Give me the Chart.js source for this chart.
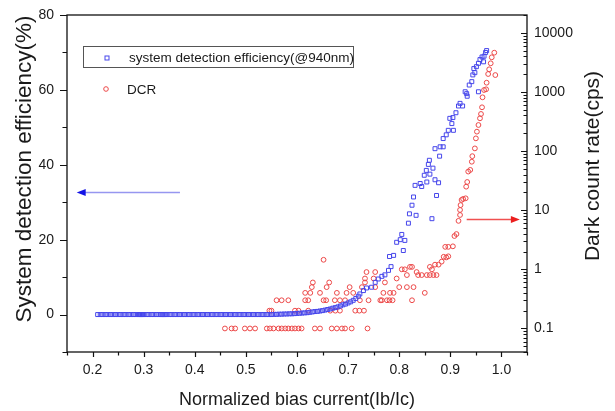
<!DOCTYPE html>
<html>
<head>
<meta charset="utf-8">
<script src="https://cdn.jsdelivr.net/npm/chart.js@4.4.1/dist/chart.umd.min.js"></script>
<style>
  html, body { margin: 0; padding: 0; background: #fff; }
</style>
</head>
<body>
<canvas id="grafico" width="615" height="411"></canvas>
<script>
// eixo x: corrente de polarizacao normalizada
const xTicks = [0.2, 0.3, 0.4, 0.5, 0.6, 0.7, 0.8, 0.9, 1.0];
const sdeTicks = [0, 20, 40, 60, 80];
const dcrTicks = [0.1, 1, 10, 100, 1000, 10000];

const sdeLabel = 'system detection efficiency(@940nm)';
const dcrLabel = 'DCR';

// SDE (%) -> [Ib/Ic, %]
const sdePontos = [
  [0.21,0],[0.215,0],[0.22,0],[0.225,0],[0.23,0],[0.235,0],[0.24,0],[0.245,0],[0.25,0],[0.255,0],
  [0.26,0],[0.265,0],[0.27,0],[0.275,0],[0.28,0],[0.285,0],[0.29,0],[0.292,0],[0.294,0],[0.296,0],
  [0.298,0],[0.3,0],[0.305,0],[0.31,0],[0.315,0],[0.32,0],[0.325,0],[0.33,0],[0.334,0],[0.336,0],
  [0.338,0],[0.34,0],[0.342,0],[0.345,0],[0.35,0],[0.355,0],[0.36,0],[0.365,0],[0.37,0],[0.375,0],
  [0.38,0],[0.385,0],[0.39,0],[0.395,0],[0.4,0],[0.405,0],[0.41,0],[0.415,0],[0.42,0],[0.425,0],
  [0.43,0],[0.435,0],[0.44,0],[0.445,0],[0.45,0],[0.455,0],[0.46,0],[0.465,0],[0.47,0],[0.475,0],
  [0.48,0],[0.485,0],[0.49,0],[0.495,0],[0.5,0],[0.505,0],[0.51,0],[0.515,0],[0.52,0],[0.525,0],
  [0.53,0],[0.535,0],[0.54,0],[0.545,0],[0.55,0],
  [0.555,0.05],[0.56,0.05],[0.565,0.1],[0.57,0.1],[0.575,0.15],[0.58,0.15],[0.585,0.2],[0.59,0.2],
  [0.595,0.25],[0.6,0.3],[0.605,0.35],[0.61,0.4],[0.615,0.45],[0.62,0.5],[0.625,0.6],[0.63,0.7],
  [0.635,0.8],[0.64,0.85],[0.645,0.95],[0.65,1.05],[0.655,1.2],[0.66,1.35],[0.665,1.5],[0.67,1.7],
  [0.675,1.85],[0.68,2.05],[0.685,2.3],[0.69,2.6],[0.695,2.8],[0.7,3.1],[0.705,3.4],[0.71,3.8],
  [0.715,4.3],[0.72,4.9],
  [0.723,5.5],[0.73,6.4],[0.736,7.1],[0.746,7.3],[0.753,8.6],[0.759,9.5],[0.766,10.2],[0.772,10.6],
  [0.779,11.8],[0.784,12.8],[0.781,15.5],[0.789,15.8],[0.795,19.3],[0.802,20],[0.805,21.4],[0.808,17.1],
  [0.811,19.8],[0.818,24.4],[0.82,26.9],[0.825,29.2],[0.828,31.4],[0.833,26.5],[0.831,34.5],[0.841,35],
  [0.844,34.2],[0.849,37.2],[0.853,38.5],[0.854,35.4],[0.857,40.1],[0.859,41.2],[0.86,37.5],[0.864,25.6],
  [0.866,39.1],[0.87,36],[0.873,31.8],[0.877,35.2],[0.879,42.3],[0.87,44.3],[0.88,44.8],[0.886,44.8],
  [0.886,47],[0.892,48],[0.896,49.2],[0.906,49.2],[0.903,51],[0.899,52.4],[0.905,52.6],[0.911,53.9],
  [0.916,55.7],[0.919,56.4],[0.924,55.7],[0.929,59.5],[0.932,59],[0.933,58.3],[0.955,59.5],[0.937,61.3],
  [0.942,62.2],[0.944,64],[0.946,65.7],[0.948,64.6],[0.951,66.2],[0.955,67.1],[0.958,68.1],[0.962,68.8],
  [0.965,67.5],[0.966,69],[0.969,70],[0.971,70.5]
];

// DCR (cps) -> [Ib/Ic, cps]
const dcrPontos = [
  [0.459,0.1],[0.472,0.1],[0.479,0.1],[0.498,0.1],[0.508,0.1],[0.518,0.1],[0.541,0.1],[0.547,0.1],
  [0.554,0.1],[0.564,0.1],[0.57,0.1],[0.577,0.1],[0.583,0.1],[0.59,0.1],[0.596,0.1],[0.603,0.1],
  [0.609,0.1],[0.635,0.1],[0.645,0.1],[0.668,0.1],[0.678,0.1],[0.688,0.1],[0.694,0.1],[0.707,0.1],
  [0.738,0.1],
  [0.546,0.2],[0.55,0.2],[0.596,0.2],[0.603,0.2],[0.622,0.2],[0.665,0.2],[0.675,0.2],[0.684,0.2],
  [0.714,0.2],[0.722,0.2],[0.731,0.2],
  [0.56,0.3],[0.57,0.3],[0.583,0.3],[0.616,0.3],[0.622,0.3],[0.652,0.3],[0.657,0.3],[0.674,0.3],
  [0.684,0.3],[0.694,0.3],[0.723,0.3],[0.74,0.3],[0.763,0.3],[0.766,0.3],[0.776,0.3],[0.781,0.3],
  [0.787,0.3],[0.825,0.3],
  [0.616,0.4],[0.626,0.4],[0.645,0.4],[0.678,0.4],[0.697,0.4],[0.71,0.4],[0.769,0.4],[0.782,0.4],
  [0.789,0.4],[0.85,0.4],
  [0.629,0.5],[0.658,0.5],[0.703,0.5],[0.727,0.5],[0.753,0.5],[0.8,0.5],[0.815,0.5],[0.828,0.5],
  [0.631,0.6],[0.663,0.6],[0.733,0.6],[0.772,0.6],
  [0.733,0.7],[0.75,0.7],[0.795,0.7],
  [0.815,0.8],[0.837,0.8],[0.844,0.8],[0.854,0.8],[0.86,0.8],[0.867,0.8],[0.873,0.8],
  [0.736,0.9],[0.753,0.9],[0.834,0.9],
  [0.805,1.0],[0.811,1.0],[0.864,1.0],
  [0.821,1.1],[0.825,1.1],[0.86,1.1],
  [0.87,1.2],[0.877,1.2],
  [0.883,1.35],[0.652,1.45],[0.887,1.63],[0.892,1.59],[0.896,1.66],[0.89,2.4],[0.896,2.4],[0.905,2.45],
  [0.908,3.66],[0.912,3.95],[0.916,6.6],[0.919,8.3],[0.919,10.1],[0.92,12.2],[0.922,14.9],[0.925,15.5],
  [0.93,15.9],[0.931,25],[0.933,30],[0.935,45],[0.939,48],[0.942,66],[0.943,82],[0.948,111],
  [0.95,164],[0.952,213],[0.955,276],[0.958,358],[0.96,424],[0.962,550],[0.963,811],[0.966,1078],
  [0.97,1108],[0.971,1433],[0.974,2010],[0.976,2414],[0.979,3050],[0.981,3850],[0.986,4610],[0.988,1930]
];

const fonte = '"Liberation Sans", Arial, Helvetica, sans-serif';
const corTexto = '#1a1a1a';
const azul = 'rgb(70,70,235)';
const vermelho = 'rgb(236,72,72)';

// moldura, marcas dos eixos, titulos verticais, legenda e setas
const moldura = {
  id: 'moldura',
  afterDraw(chart) {
    const { ctx, chartArea: a, scales } = chart;
    const sx = scales.x, sy = scales.y, sy2 = scales.y2;
    ctx.save();
    ctx.strokeStyle = '#111';
    ctx.lineWidth = 1.3;
    ctx.strokeRect(a.left, a.top, a.right - a.left, a.bottom - a.top);

    ctx.lineWidth = 1.2;
    ctx.beginPath();
    // x: maiores e menores
    for (let v = 0.15; v <= 1.0501; v += 0.05) {
      const px = Math.round(sx.getPixelForValue(v)) + 0.5;
      const major = xTicks.some(t => Math.abs(t - v) < 1e-6);
      ctx.moveTo(px, a.bottom);
      ctx.lineTo(px, a.bottom + (major ? 5 : 3.5));
    }
    // y esquerdo
    for (let v = -10; v <= 80; v += 10) {
      const py = Math.round(sy.getPixelForValue(v)) + 0.5;
      const major = sdeTicks.includes(v);
      ctx.moveTo(a.left, py);
      ctx.lineTo(a.left - (major ? 7 : 4.5), py);
    }
    // y direito (log), marcas para dentro
    for (let d = -2; d <= 4; d++) {
      for (let k = 1; k <= 9; k++) {
        const v = k * Math.pow(10, d);
        if (v < sy2.min || v > sy2.max) continue;
        const py = Math.round(sy2.getPixelForValue(v)) + 0.5;
        ctx.moveTo(a.right, py);
        ctx.lineTo(a.right - (k === 1 ? 6 : 3.5), py);
      }
    }
    ctx.stroke();

    // titulos verticais
    ctx.fillStyle = corTexto;
    ctx.textAlign = 'center';
    ctx.textBaseline = 'middle';
    ctx.font = '22.5px ' + fonte;
    ctx.save();
    ctx.translate(25, 169);
    ctx.rotate(-Math.PI / 2);
    ctx.fillText('System detection efficiency(%)', 0, 0);
    ctx.restore();
    ctx.font = '21px ' + fonte;
    ctx.save();
    ctx.translate(593, 166);
    ctx.rotate(-Math.PI / 2);
    ctx.fillText('Dark count rate(cps)', 0, 0);
    ctx.restore();

    // legenda
    const ds = chart.data.datasets;
    ctx.lineWidth = 1;
    ctx.strokeStyle = '#555';
    ctx.strokeRect(83.5, 46.5, 270, 21);
    ctx.font = '13.5px ' + fonte;
    ctx.textAlign = 'left';
    ctx.fillStyle = corTexto;
    ctx.fillText(ds[0].label, 129, 58);
    ctx.fillText(ds[1].label, 127, 90);
    ctx.strokeStyle = ds[0].borderColor;
    ctx.strokeRect(105, 56, 4, 4);
    ctx.strokeStyle = ds[1].borderColor;
    ctx.beginPath();
    ctx.arc(106, 89, 2.3, 0, Math.PI * 2);
    ctx.stroke();

    // setas apontando para o eixo de cada serie
    function seta(x0, x1, py, corLinha, corPonta) {
      const p0 = sx.getPixelForValue(x0), p1 = sx.getPixelForValue(x1);
      const dir = Math.sign(p1 - p0);
      ctx.strokeStyle = corLinha;
      ctx.lineWidth = 1.6;
      ctx.beginPath();
      ctx.moveTo(p0, py);
      ctx.lineTo(p1 - dir * 6, py);
      ctx.stroke();
      ctx.fillStyle = corPonta;
      ctx.beginPath();
      ctx.moveTo(p1, py);
      ctx.lineTo(p1 - dir * 9, py - 3.5);
      ctx.lineTo(p1 - dir * 9, py + 3.5);
      ctx.closePath();
      ctx.fill();
    }
    seta(0.371, 0.169, Math.round(sy.getPixelForValue(32.6)) + 0.5, 'rgb(150,150,240)', 'rgb(20,20,230)');
    seta(0.932, 1.036, Math.round(sy2.getPixelForValue(7)) + 0.5, 'rgb(240,80,80)', 'rgb(235,30,30)');
    ctx.restore();
  }
};

const ctx = document.getElementById('grafico');
new Chart(ctx, {
  type: 'scatter',
  data: {
    datasets: [
      {
        label: sdeLabel,
        data: sdePontos.map(p => ({ x: p[0], y: p[1] })),
        yAxisID: 'y',
        pointStyle: 'rect',
        pointRadius: 2.8,
        borderWidth: 1,
        borderColor: azul,
        backgroundColor: 'rgba(0,0,0,0)'
      },
      {
        label: dcrLabel,
        data: dcrPontos.map(p => ({ x: p[0], y: p[1] })),
        yAxisID: 'y2',
        pointStyle: 'circle',
        pointRadius: 2.4,
        borderWidth: 1,
        borderColor: vermelho,
        backgroundColor: 'rgba(0,0,0,0)'
      }
    ]
  },
  options: {
    responsive: false,
    animation: false,
    layout: { padding: { top: 15 } },
    plugins: { legend: { display: false }, tooltip: { enabled: false } },
    scales: {
      x: {
        type: 'linear',
        min: 0.15,
        max: 1.05,
        afterFit: s => { s.height = 59; s.paddingLeft = 0; s.paddingRight = 0; },
        afterBuildTicks: s => { s.ticks = xTicks.map(v => ({ value: v })); },
        grid: { display: false, drawTicks: false },
        border: { display: false },
        ticks: {
          padding: 10, color: corTexto, autoSkip: false, maxRotation: 0,
          font: { family: fonte, size: 14 },
          callback: v => v.toFixed(1)
        },
        title: {
          display: true, text: 'Normalized bias current(Ib/Ic)', color: corTexto,
          font: { family: fonte, size: 18 }, padding: { top: 0, bottom: 0 }
        }
      },
      y: {
        position: 'left',
        min: -10,
        max: 80,
        afterFit: s => { s.width = 67; s.paddingTop = 0; s.paddingBottom = 0; },
        afterBuildTicks: s => { s.ticks = sdeTicks.map(v => ({ value: v })); },
        grid: { display: false, drawTicks: false },
        border: { display: false },
        ticks: {
          padding: 13, color: corTexto, autoSkip: false,
          font: { family: fonte, size: 14 }
        }
      },
      y2: {
        type: 'logarithmic',
        position: 'right',
        min: 0.04,
        max: 20000,
        afterFit: s => { s.width = 88; s.paddingTop = 0; s.paddingBottom = 0; },
        afterBuildTicks: s => { s.ticks = dcrTicks.map(v => ({ value: v })); },
        grid: { display: false, drawTicks: false },
        border: { display: false },
        ticks: {
          padding: 7, color: corTexto, autoSkip: false,
          font: { family: fonte, size: 14 },
          callback: v => String(v)
        }
      }
    }
  },
  plugins: [moldura]
});
</script>
</body>
</html>
